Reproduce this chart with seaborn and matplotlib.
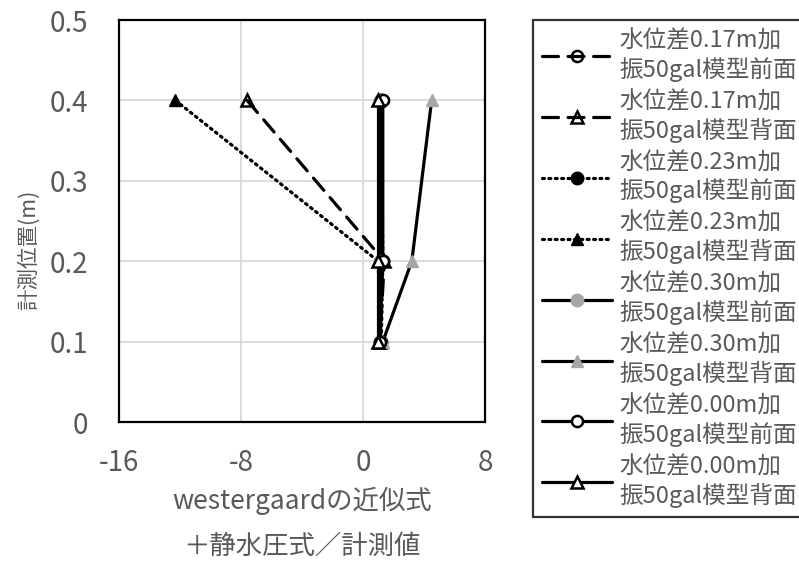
import matplotlib
matplotlib.use("Agg")
import matplotlib.pyplot as plt
import seaborn as sns
import numpy as np

sns.set_theme(style="white")
plt.rcParams['font.family'] = ['Noto Sans CJK JP', 'DejaVu Sans']
plt.rcParams['axes.unicode_minus'] = False

# data: measured positions (m) and ratio values
y_pos = [0.4, 0.2, 0.1]
labels = [
    "水位差0.17m加\n振50gal模型前面",
    "水位差0.17m加\n振50gal模型背面",
    "水位差0.23m加\n振50gal模型前面",
    "水位差0.23m加\n振50gal模型背面",
    "水位差0.30m加\n振50gal模型前面",
    "水位差0.30m加\n振50gal模型背面",
    "水位差0.00m加\n振50gal模型前面",
    "水位差0.00m加\n振50gal模型背面",
]
v017_front = [1.2, 1.2, 1.1]
v017_back = [-7.6, 1.4, 1.1]
v023_front = [1.2, 1.3, 1.2]
v023_back = [-12.3, 1.0, 1.1]
v030_front = [1.1, 1.1, 1.1]
v030_back = [4.5, 3.2, 1.3]
v000_front = [1.3, 1.3, 1.1]
v000_back = [1.0, 1.0, 1.0]
series = [v017_front, v017_back, v023_front, v023_back,
          v030_front, v030_back, v000_front, v000_back]

x_ticks = [-16, -8, 0, 8]
y_ticks = [0, 0.1, 0.2, 0.3, 0.4, 0.5]
y_tick_labels = ["0", "0.1", "0.2", "0.3", "0.4", "0.5"]

gray_txt = "#595959"
styles = [
    dict(color="black", linestyle=(0, (5, 3)), marker="o", mfc="none", mec="black", ms=8, mew=1.8),
    dict(color="black", linestyle=(0, (5, 3)), marker="^", mfc="none", mec="black", ms=8, mew=1.8),
    dict(color="black", linestyle=(0, (0.6, 1.4)), marker="o", mfc="black", mec="black", ms=9, mew=1),
    dict(color="black", linestyle=(0, (0.6, 1.4)), marker="^", mfc="black", mec="black", ms=9, mew=1),
    dict(color="black", linestyle="-", marker="o", mfc="#a6a6a6", mec="#a6a6a6", ms=9, mew=1),
    dict(color="black", linestyle="-", marker="^", mfc="#a6a6a6", mec="#a6a6a6", ms=9, mew=1),
    dict(color="black", linestyle="-", marker="o", mfc="white", mec="black", ms=8, mew=1.8),
    dict(color="black", linestyle="-", marker="^", mfc="white", mec="black", ms=8, mew=1.8),
]

fig = plt.figure(figsize=(7.99, 5.62), dpi=100)
ax = fig.add_axes([119/799, 1-422/562, 366/799, 402/562])

for vals, lab, st in zip(series, labels, styles):
    sns.lineplot(x=vals, y=y_pos, sort=False, estimator=None, ax=ax,
                 label=lab, linewidth=2.3, dash_capstyle="round", **st)

ax.set_xlim(-16, 8)
ax.set_ylim(0, 0.5)
ax.set_xticks(x_ticks)
ax.set_yticks(y_ticks)
ax.set_yticklabels(y_tick_labels)
ax.grid(True, color="#d9d9d9", linewidth=1.3)
ax.set_axisbelow(True)
for s in ax.spines.values():
    s.set_color("black")
    s.set_linewidth(1.6)
ax.tick_params(axis="both", length=0, labelsize=20, labelcolor=gray_txt)
ax.tick_params(axis="x", pad=19)
ax.tick_params(axis="y", pad=22)
ax.set_ylabel("計測位置(m)", fontsize=15.5, color=gray_txt)
ax.yaxis.set_label_coords((40 - 119) / 366, (422 - 250) / 402)
ax.set_xlabel("westergaardの近似式\n＋静水圧式／計測値", fontsize=19, color=gray_txt,
              linespacing=1.85)
ax.xaxis.set_label_coords(0.5, (422 - 487) / 402)

leg = ax.legend(loc="upper left", bbox_to_anchor=(533/799, 1-20/562),
                bbox_transform=fig.transFigure, fontsize=17, frameon=True,
                fancybox=False, borderaxespad=0, handlelength=2.95,
                handletextpad=0.3, labelspacing=0.36, borderpad=0.4)
leg.get_frame().set_edgecolor("black")
leg.get_frame().set_linewidth(1.6)
for t in leg.get_texts():
    t.set_color(gray_txt)
    t.set_linespacing(1.22)

fig.savefig("out.png", dpi=100)
